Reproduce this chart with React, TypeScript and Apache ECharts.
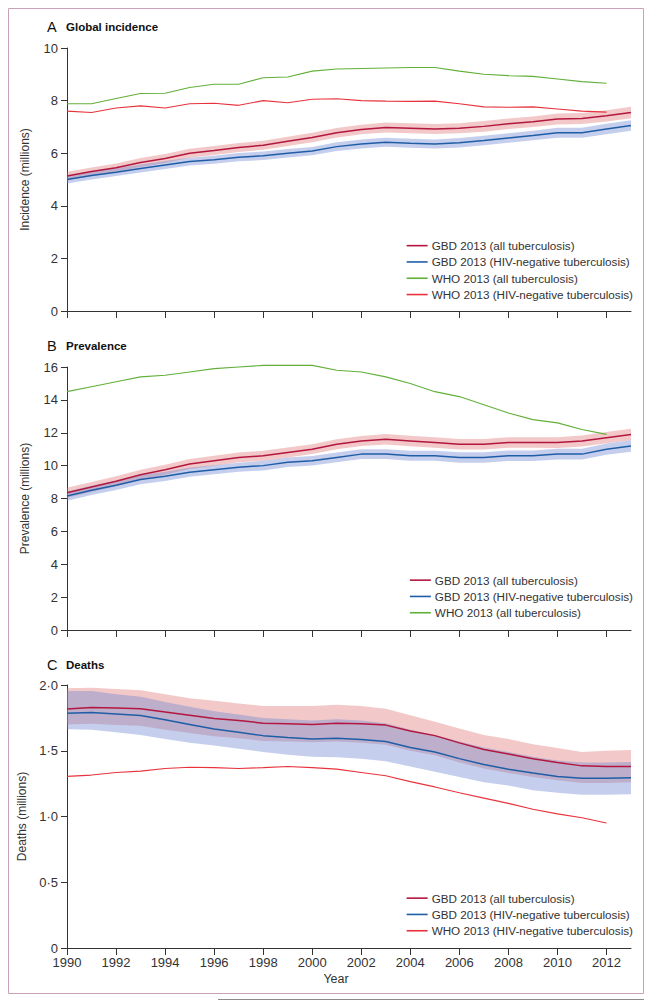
import React, { useEffect, useRef } from "react";
import * as echarts from "echarts";

const FONT = "'Liberation Sans', Arial, sans-serif";

const years = [1990,1991,1992,1993,1994,1995,1996,1997,1998,1999,2000,2001,2002,2003,2004,2005,2006,2007,2008,2009,2010,2011,2012,2013];
const tickYears = [1990,1992,1994,1996,1998,2000,2002,2004,2006,2008,2010,2012];

// A: Incidence (millions)
const incGbdAll = [5.13,5.30,5.45,5.65,5.80,6.00,6.10,6.22,6.30,6.45,6.60,6.78,6.90,6.98,6.95,6.92,6.95,7.02,7.12,7.20,7.30,7.32,7.42,7.55];
const incGbdAllLo = [4.97,5.14,5.29,5.48,5.63,5.83,5.93,6.05,6.13,6.27,6.42,6.60,6.72,6.79,6.76,6.73,6.76,6.82,6.92,7.00,7.09,7.11,7.21,7.33];
const incGbdAllHi = [5.29,5.46,5.61,5.82,5.97,6.17,6.27,6.39,6.47,6.63,6.78,6.96,7.08,7.17,7.14,7.11,7.14,7.22,7.32,7.40,7.51,7.53,7.63,7.77];
const incGbdNeg = [5.00,5.15,5.28,5.42,5.55,5.68,5.75,5.85,5.90,6.00,6.08,6.25,6.35,6.42,6.38,6.35,6.40,6.48,6.58,6.67,6.78,6.78,6.92,7.05];
const incGbdNegLo = [4.85,5.00,5.13,5.27,5.40,5.53,5.60,5.69,5.74,5.84,5.92,6.08,6.18,6.25,6.21,6.18,6.22,6.30,6.40,6.49,6.59,6.59,6.72,6.85];
const incGbdNegHi = [5.15,5.30,5.43,5.57,5.70,5.83,5.90,6.01,6.06,6.16,6.24,6.42,6.52,6.59,6.55,6.52,6.58,6.66,6.76,6.85,6.97,6.97,7.12,7.25];
const incWhoAll = [7.88,7.88,8.08,8.27,8.28,8.50,8.62,8.62,8.87,8.90,9.12,9.20,9.22,9.24,9.26,9.26,9.12,9.00,8.95,8.92,8.82,8.72,8.66];
const incWhoNeg = [7.60,7.55,7.72,7.80,7.72,7.88,7.90,7.82,8.00,7.92,8.05,8.07,8.00,7.98,7.97,7.98,7.88,7.76,7.75,7.76,7.68,7.60,7.56];

// B: Prevalence (millions)
const prevGbdAll = [8.35,8.70,9.05,9.45,9.75,10.10,10.30,10.50,10.60,10.80,11.00,11.30,11.50,11.60,11.50,11.40,11.30,11.30,11.40,11.40,11.40,11.50,11.70,11.90];
const prevGbdAllLo = [8.05,8.40,8.75,9.15,9.45,9.80,10.00,10.20,10.30,10.50,10.70,11.00,11.20,11.28,11.18,11.08,10.98,10.98,11.08,11.08,11.07,11.16,11.36,11.55];
const prevGbdAllHi = [8.65,9.00,9.35,9.75,10.05,10.40,10.60,10.80,10.90,11.10,11.30,11.60,11.80,11.92,11.82,11.72,11.62,11.62,11.72,11.72,11.73,11.84,12.04,12.25];
const prevGbdNeg = [8.15,8.50,8.80,9.15,9.35,9.60,9.75,9.90,10.00,10.20,10.30,10.50,10.70,10.70,10.60,10.60,10.50,10.50,10.60,10.60,10.70,10.70,11.00,11.20];
const prevGbdNegLo = [7.87,8.22,8.52,8.87,9.07,9.32,9.47,9.62,9.71,9.91,10.01,10.20,10.40,10.40,10.29,10.29,10.18,10.18,10.28,10.28,10.37,10.37,10.66,10.85];
const prevGbdNegHi = [8.43,8.78,9.08,9.43,9.63,9.88,10.03,10.18,10.29,10.49,10.59,10.80,11.00,11.00,10.91,10.91,10.82,10.82,10.92,10.92,11.03,11.03,11.34,11.55];
const prevWhoAll = [14.5,14.8,15.1,15.4,15.5,15.7,15.9,16.0,16.1,16.1,16.1,15.8,15.7,15.4,15.0,14.5,14.2,13.7,13.2,12.8,12.6,12.2,11.9];

// C: Deaths (millions)
const deathGbdAll = [1.818,1.828,1.825,1.820,1.795,1.770,1.745,1.730,1.710,1.705,1.700,1.710,1.705,1.695,1.650,1.615,1.560,1.510,1.475,1.440,1.410,1.385,1.380,1.380];
const deathGbdAllLo = [1.700,1.705,1.695,1.690,1.660,1.635,1.610,1.595,1.575,1.570,1.565,1.570,1.560,1.545,1.500,1.465,1.410,1.365,1.330,1.300,1.275,1.255,1.255,1.260];
const deathGbdAllHi = [1.975,1.980,1.970,1.960,1.930,1.900,1.880,1.860,1.840,1.840,1.840,1.850,1.840,1.820,1.770,1.720,1.670,1.620,1.590,1.550,1.520,1.490,1.500,1.505];
const deathGbdNeg = [1.786,1.790,1.780,1.768,1.735,1.700,1.665,1.640,1.615,1.600,1.590,1.595,1.585,1.570,1.525,1.490,1.440,1.395,1.360,1.330,1.305,1.290,1.290,1.295];
const deathGbdNegLo = [1.664,1.660,1.640,1.620,1.590,1.560,1.540,1.515,1.490,1.470,1.455,1.450,1.440,1.420,1.380,1.340,1.300,1.260,1.235,1.200,1.180,1.165,1.165,1.170];
const deathGbdNegHi = [1.955,1.955,1.930,1.910,1.870,1.835,1.800,1.775,1.750,1.740,1.730,1.740,1.730,1.710,1.660,1.620,1.570,1.525,1.490,1.455,1.425,1.410,1.410,1.415];
const deathWhoNeg = [1.305,1.315,1.335,1.345,1.365,1.375,1.372,1.365,1.372,1.380,1.372,1.360,1.335,1.310,1.265,1.225,1.180,1.140,1.100,1.055,1.020,0.990,0.950];

const N_GBD_ALL = "GBD 2013 (all tuberculosis)";
const N_GBD_NEG = "GBD 2013 (HIV-negative tuberculosis)";
const N_WHO_ALL = "WHO 2013 (all tuberculosis)";
const N_WHO_NEG = "WHO 2013 (HIV-negative tuberculosis)";

const C_GBD_ALL = "#b3173f";
const C_GBD_NEG = "#1f5ea6";
const C_WHO_ALL = "#62b03a";
const C_WHO_NEG = "#e8333c";
const C_BAND_ALL = "rgba(222, 110, 110, 0.38)";
const C_BAND_NEG = "rgba(110, 135, 210, 0.40)";

const TXT = "#333";

function pairs(vals: number[]) {
  return vals.map((v, i) => [years[i], v]);
}

function line(name: string, vals: number[], color: string, width: number, idx: number) {
  return {
    type: "line",
    name,
    xAxisIndex: idx,
    yAxisIndex: idx,
    data: pairs(vals),
    color,
    symbol: "none",
    clip: false,
    lineStyle: { color, width },
    z: 5,
  };
}

function band(lo: number[], hi: number[], fill: string, idx: number) {
  return {
    type: "custom",
    xAxisIndex: idx,
    yAxisIndex: idx,
    silent: true,
    z: 2,
    data: [[years[0], lo[0]]],
    renderItem: (_params: any, api: any) => {
      const top = hi.map((v, i) => api.coord([years[i], v]));
      const bot = lo.map((v, i) => api.coord([years[i], v])).reverse();
      return {
        type: "polygon",
        shape: { points: top.concat(bot) },
        style: { fill, stroke: "none" },
      };
    },
  };
}

const gridTops = [48, 367, 685];
const gridH = 263;

function xAxis(idx: number) {
  return {
    type: "value",
    gridIndex: idx,
    min: 1990,
    max: 2013,
    splitLine: { show: false },
    axisLine: { show: true, lineStyle: { color: TXT, width: 1 } },
    axisTick: { show: true, length: 7, lineStyle: { color: TXT }, customValues: tickYears },
    axisLabel: {
      show: idx === 2,
      customValues: tickYears,
      margin: 8,
      fontSize: 13,
      color: TXT,
      fontFamily: FONT,
      formatter: (v: number) => String(v),
    },
    name: idx === 2 ? "Year" : "",
    nameLocation: "middle",
    nameGap: 24,
    nameTextStyle: { fontSize: 12.5, color: TXT, fontFamily: FONT, padding: [0, 26, 0, 0] },
  };
}

function yAxis(idx: number, max: number, interval: number, name: string, dot: boolean) {
  return {
    type: "value",
    gridIndex: idx,
    min: 0,
    max,
    interval,
    splitLine: { show: false },
    axisLine: { show: true, lineStyle: { color: TXT, width: 1 } },
    axisTick: { show: true, length: 6, lineStyle: { color: TXT } },
    axisLabel: {
      margin: 9,
      fontSize: 13,
      color: TXT,
      fontFamily: FONT,
      formatter: (v: number) => (dot ? (v === 0 ? "0" : v.toFixed(1).replace(".", "\u00b7")) : String(v)),
    },
    name,
    nameLocation: "middle",
    nameGap: 36,
    nameTextStyle: { fontSize: 12, color: TXT, fontFamily: FONT },
  };
}

function legend(top: number, names: string[]) {
  return {
    orient: "vertical",
    right: 21,
    top,
    padding: 0,
    itemGap: 0,
    itemWidth: 21,
    itemHeight: 1.6,
    icon: "rect",
    align: "left",
    data: names,
    selectedMode: false,
    textStyle: { fontSize: 11.7, color: TXT, fontFamily: FONT, lineHeight: 16.3, padding: [0, 0, 0, -1] },
  };
}

function title(letter: string, text: string, y: number) {
  return [
    {
      type: "text",
      left: 47,
      top: y - 9,
      style: { text: letter, font: `14.5px ${FONT}`, fill: "#111" },
    },
    {
      type: "text",
      left: 66,
      top: y - 7,
      style: { text, font: `bold 11.5px ${FONT}`, fill: "#111" },
    },
  ];
}

export default function App() {
  const ref = useRef<HTMLDivElement>(null);
  useEffect(() => {
    if (!ref.current) return;
    const chart = echarts.init(ref.current, null, { renderer: "svg" });
    chart.setOption({
      animation: false,
      backgroundColor: "#fff",
      grid: gridTops.map((t) => ({ left: 67, width: 564, top: t, height: gridH })),
      xAxis: [xAxis(0), xAxis(1), xAxis(2)],
      yAxis: [
        yAxis(0, 10, 2, "Incidence (millions)", false),
        yAxis(1, 16, 2, "Prevalence (millions)", false),
        yAxis(2, 2, 0.5, "Deaths (millions)", true),
      ],
      legend: [
        legend(237.5, [N_GBD_ALL, N_GBD_NEG, N_WHO_ALL, N_WHO_NEG]),
        legend(572, [N_GBD_ALL, N_GBD_NEG, N_WHO_ALL]),
        legend(890, [N_GBD_ALL, N_GBD_NEG, N_WHO_NEG]),
      ],
      graphic: [
        {
          type: "rect",
          shape: { x: 8.5, y: 8.5, width: 635, height: 985 },
          style: { fill: "none", stroke: "#c9a2b7", lineWidth: 1 },
          silent: true,
        },
        {
          type: "line",
          shape: { x1: 218, y1: 999.5, x2: 644, y2: 999.5 },
          style: { stroke: "#8a8a8a", lineWidth: 1.2 },
          silent: true,
        },
        ...title("A", "Global incidence", 28),
        ...title("B", "Prevalence", 347),
        ...title("C", "Deaths", 666),
      ],
      series: [
        band(incGbdAllLo, incGbdAllHi, C_BAND_ALL, 0),
        band(incGbdNegLo, incGbdNegHi, C_BAND_NEG, 0),
        line(N_WHO_ALL, incWhoAll, C_WHO_ALL, 1.1, 0),
        line(N_WHO_NEG, incWhoNeg, C_WHO_NEG, 1.1, 0),
        line(N_GBD_ALL, incGbdAll, C_GBD_ALL, 1.5, 0),
        line(N_GBD_NEG, incGbdNeg, C_GBD_NEG, 1.5, 0),

        band(prevGbdAllLo, prevGbdAllHi, C_BAND_ALL, 1),
        band(prevGbdNegLo, prevGbdNegHi, C_BAND_NEG, 1),
        line(N_WHO_ALL, prevWhoAll, C_WHO_ALL, 1.1, 1),
        line(N_GBD_ALL, prevGbdAll, C_GBD_ALL, 1.5, 1),
        line(N_GBD_NEG, prevGbdNeg, C_GBD_NEG, 1.5, 1),

        band(deathGbdAllLo, deathGbdAllHi, C_BAND_ALL, 2),
        band(deathGbdNegLo, deathGbdNegHi, C_BAND_NEG, 2),
        line(N_WHO_NEG, deathWhoNeg, C_WHO_NEG, 1.1, 2),
        line(N_GBD_ALL, deathGbdAll, C_GBD_ALL, 1.5, 2),
        line(N_GBD_NEG, deathGbdNeg, C_GBD_NEG, 1.5, 2),
      ],
    });
    return () => chart.dispose();
  }, []);
  return (
    <div
      ref={ref}
      style={{ position: "fixed", left: 0, top: 0, width: 654, height: 1001, background: "#fff" }}
    />
  );
}
